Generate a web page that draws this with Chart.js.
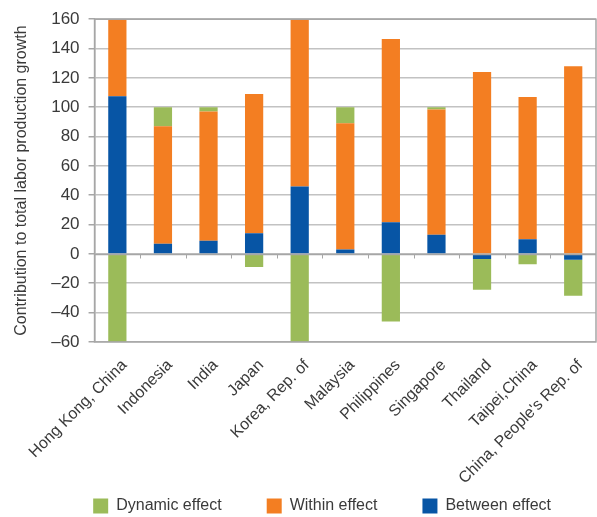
<!DOCTYPE html>
<html>
<head>
<meta charset="utf-8">
<script src="https://cdn.jsdelivr.net/npm/chart.js@4/dist/chart.umd.min.js"></script>
<style>
  html, body { margin: 0; padding: 0; background: #ffffff; }
  #wrap { width: 597px; height: 517px; }
</style>
</head>
<body>
<div id="wrap"><canvas id="chart"></canvas></div>
<script>
// Economies on the horizontal axis
const economies = [
  'Hong Kong, China', 'Indonesia', 'India', 'Japan', 'Korea, Rep. of',
  'Malaysia', 'Philippines', 'Singapore', 'Thailand', 'Taipei,China',
  "China, People's Rep. of"
];

// Decomposition of labor productivity growth (contributions)
const betweenEffect = [107.5, 7, 9, 14, 46, 3, 21.5, 13, -3.5, 10, -4];
const withinEffect  = [60, 80, 88, 95, 125, 86, 125, 85.5, 124, 97, 128];
const dynamicEffect = [-75, 13, 3, -9, -75, 11, -46, 1.5, -21, -7, -24.5];

// Value axis range and step
const yMin = -60;
const yMax = 160;
const yStep = 20;

const FONT = "'Liberation Sans', Arial, sans-serif";
const TEXT = '#3a3a3a';

// The category labels are allowed to hang into the legend's empty top margin
const LABEL_OVERHANG = 41;

// Frame around the plot plus short separators hanging from the zero line
const frameAndZeroTicks = {
  id: 'frameAndZeroTicks',
  afterLayout(chart) {
    // keep the overhanging labels inside the x scale's drawing clip
    chart.scales.x.bottom += LABEL_OVERHANG;
  },
  afterDatasetsDraw(chart) {
    const { ctx, chartArea: a, scales: { x, y } } = chart;
    ctx.save();
    ctx.strokeStyle = '#a6a6a6';
    ctx.lineWidth = 1.5;
    ctx.strokeRect(a.left, a.top, a.right - a.left, a.bottom - a.top);
    const y0 = Math.round(y.getPixelForValue(0)) + 0.5;
    ctx.beginPath();
    ctx.moveTo(a.left, y0);
    ctx.lineTo(a.right, y0);
    ctx.stroke();
    ctx.lineWidth = 1;
    for (let i = 1; i < economies.length; i++) {
      const bx = Math.round((x.getPixelForValue(i - 1) + x.getPixelForValue(i)) / 2) + 0.5;
      ctx.beginPath();
      ctx.moveTo(bx, y0);
      ctx.lineTo(bx, y0 + 4);
      ctx.stroke();
    }
    ctx.restore();
  }
};

new Chart(document.getElementById('chart'), {
  type: 'bar',
  data: {
    labels: economies,
    datasets: [
      { label: 'Between effect', data: betweenEffect, backgroundColor: '#0755a5' },
      { label: 'Within effect', data: withinEffect, backgroundColor: '#f37e22' },
      { label: 'Dynamic effect', data: dynamicEffect, backgroundColor: '#9bbb59' }
    ]
  },
  options: {
    responsive: true,
    maintainAspectRatio: false,
    animation: false,
    layout: { padding: { left: 12, right: 1, top: 13, bottom: 0 } },
    datasets: {
      bar: { barPercentage: 0.8, categoryPercentage: 0.5, borderWidth: 0 }
    },
    scales: {
      x: {
        stacked: true,
        grid: { display: false },
        border: { display: false },
        afterFit: (scale) => { scale.height -= LABEL_OVERHANG; },
        ticks: {
          color: TEXT,
          autoSkip: false,
          font: { family: FONT, size: 16 },
          minRotation: 45,
          maxRotation: 45,
          labelOffset: 7,
          padding: 6
        }
      },
      y: {
        stacked: true,
        min: yMin,
        max: yMax,
        grid: {
          color: '#c2c2c2',
          lineWidth: 1.5,
          tickLength: 6,
          tickColor: '#a6a6a6'
        },
        border: { display: true, color: '#a6a6a6', width: 1.5 },
        ticks: {
          stepSize: yStep,
          autoSkip: false,
          color: TEXT,
          padding: 9,
          font: { family: FONT, size: 17 },
          callback: (v) => (v < 0 ? '\u2013' + Math.abs(v) : String(v))
        },
        title: {
          display: true,
          text: 'Contribution to total labor production growth',
          color: TEXT,
          font: { family: FONT, size: 16 },
          padding: { top: 0, bottom: 11 }
        }
      }
    },
    plugins: {
      legend: {
        position: 'bottom',
        align: 'end',
        reverse: true,
        maxHeight: 64,
        labels: {
          color: TEXT,
          font: { family: FONT, size: 16 },
          boxWidth: 15,
          boxHeight: 15,
          padding: 45
        }
      },
      tooltip: { enabled: false }
    }
  },
  plugins: [frameAndZeroTicks]
});
</script>
</body>
</html>
